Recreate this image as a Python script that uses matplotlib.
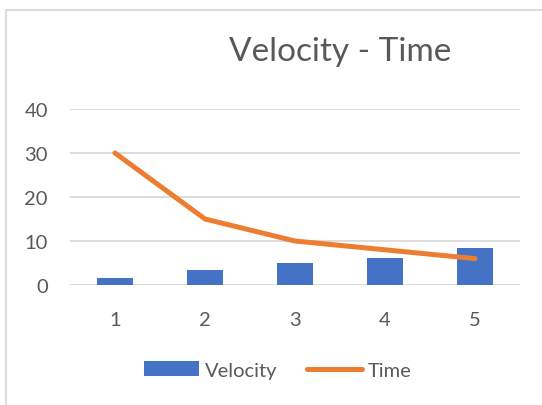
import matplotlib
matplotlib.use('Agg')
import matplotlib.pyplot as plt
from matplotlib.patches import Rectangle
from matplotlib.lines import Line2D
from matplotlib.patches import Patch

# data
categories = ['1', '2', '3', '4', '5']
velocity = [1.67, 3.33, 5.0, 6.25, 8.33]
time_vals = [30, 15, 10, 8, 6]
y_ticks = [0, 10, 20, 30, 40]

blue = '#4472C4'
orange = '#ED7D31'
grid_col = '#D9D9D9'
text_col = '#595959'

plt.rcParams['font.family'] = ['Lato', 'DejaVu Sans']

fig = plt.figure(figsize=(5.42, 4.06), dpi=100)
W, H = 542, 406

# chart border (cropped on right and bottom)
fig.patches.append(Rectangle((6 / W, -0.1), 1.2, (406 - 11) / H + 0.1,
                             transform=fig.transFigure, fill=False,
                             edgecolor=grid_col, linewidth=1.3))

ax = fig.add_axes([70 / W, (H - 286) / H, 450 / W, 176 / H])
x = list(range(len(categories)))
ax.bar(x, velocity, width=0.4, color=blue, zorder=2)
ax.plot(x, time_vals, color=orange, linewidth=3.6, solid_capstyle='round', zorder=3)

ax.set_xlim(-0.5, len(categories) - 0.5)
ax.set_ylim(0, 40)
ax.set_yticks(y_ticks)
ax.set_xticks(x)
ax.set_xticklabels(categories)
for s in ax.spines.values():
    s.set_visible(False)
ax.grid(axis='y', color=grid_col, linewidth=1.3, zorder=0)
ax.tick_params(length=0, labelsize=14.5, labelcolor=text_col)
ax.tick_params(axis='y', pad=16)
ax.tick_params(axis='x', pad=19)

fig.text(340 / W, 1 - 52 / H, 'Velocity - Time', ha='center', va='center',
         fontsize=24, color=text_col)

handles = [Patch(facecolor=blue, edgecolor='none', label='Velocity'),
           Line2D([0], [0], color=orange, linewidth=3.6, solid_capstyle='round', label='Time')]
fig.legend(handles=handles, loc='center', bbox_to_anchor=(278 / W, 1 - 371 / H),
           ncol=2, frameon=False, fontsize=14.5, labelcolor=text_col,
           handlelength=2.7, handleheight=0.7, handletextpad=0.3, columnspacing=1.5)

fig.savefig('out.png', dpi=100)
